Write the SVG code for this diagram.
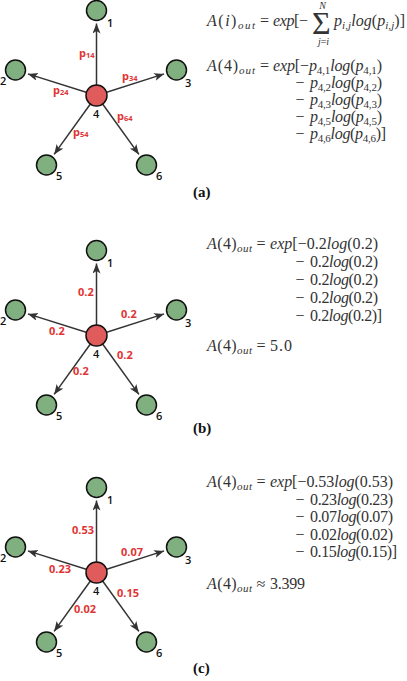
<svg xmlns="http://www.w3.org/2000/svg" width="407" height="681" viewBox="0 0 407 681">
<style>
.bg{fill:#ffffff}
.edge{stroke:#333333;stroke-width:1.5;fill:none;marker-end:url(#arr)}
.leaf{fill:#80b080;stroke:#111111;stroke-width:1.5}
.hub{fill:#e05c5c;stroke:#111111;stroke-width:1.5}
.nl{font-family:"Open Sans","Liberation Sans",sans-serif;font-weight:600;font-size:11px;fill:#111111}
.el{font-family:"Open Sans","Liberation Sans",sans-serif;font-weight:700;font-size:11px;fill:#e03434}
.els{font-size:7.5px}
.m{font-family:"Liberation Serif","Times New Roman",serif;font-size:16px;fill:#333333}
.i{font-style:italic}
.s{font-size:11px}
.lim{font-size:10px}
.big{font-size:32px}
.cap{font-family:"Liberation Serif","Times New Roman",serif;font-weight:700;font-size:15px;fill:#111111}
</style>
<defs>
<marker id="arr" markerUnits="userSpaceOnUse" markerWidth="11" markerHeight="9" refX="10" refY="4" orient="auto" viewBox="0 0 11 9">
<path d="M0,0 L10,4 L0,8 L2.5,4 Z" fill="#333333"/>
</marker>
<g id="star-edges">
<line class="edge" x1="96.5" y1="95.5" x2="96.5" y2="23.5"/>
<line class="edge" x1="96.5" y1="95.5" x2="27.9" y2="73.9"/>
<line class="edge" x1="96.5" y1="95.5" x2="164.1" y2="73.9"/>
<line class="edge" x1="96.5" y1="95.5" x2="54.1" y2="154.4"/>
<line class="edge" x1="96.5" y1="95.5" x2="138.9" y2="154.4"/>
</g>
</defs>
<rect class="bg" x="0" y="0" width="407" height="681"/>

<!-- Panel (a) -->
<g id="panel-a">
<g id="a-connectors">
<use href="#star-edges"/>
<text class="el" x="79" y="57">p<tspan class="els" dy="1">14</tspan></text>
<text class="el" x="53" y="94">p<tspan class="els" dy="1">24</tspan></text>
<text class="el" x="122" y="80">p<tspan class="els" dy="1">34</tspan></text>
<text class="el" x="73" y="136">p<tspan class="els" dy="1">54</tspan></text>
<text class="el" x="117" y="120">p<tspan class="els" dy="1">64</tspan></text>
</g>
<g id="a-node1"><circle class="leaf" cx="96.5" cy="10.5" r="10"/><text class="nl" x="107" y="27">1</text></g>
<g id="a-node2"><circle class="leaf" cx="15.5" cy="70" r="10"/><text class="nl" x="0" y="85">2</text></g>
<g id="a-node3"><circle class="leaf" cx="176.5" cy="70" r="10"/><text class="nl" x="185" y="87">3</text></g>
<g id="a-node4"><circle class="hub" cx="96.5" cy="95.5" r="10.5"/><text class="nl" x="93" y="118">4</text></g>
<g id="a-node5"><circle class="leaf" cx="46.5" cy="165" r="10"/><text class="nl" x="56" y="180">5</text></g>
<g id="a-node6"><circle class="leaf" cx="146.5" cy="165" r="10"/><text class="nl" x="156" y="180">6</text></g>
<g id="a-formula">
<text class="m" x="207" y="26" textLength="48"><tspan class="i">A</tspan>(<tspan class="i">i</tspan>)<tspan class="i s" dy="3">out</tspan></text>
<text class="m" x="264.5" y="26" text-anchor="middle">=</text>
<text class="m" x="273" y="26" textLength="35"><tspan class="i">exp</tspan>[−</text>
<text class="m big" x="312" y="34" textLength="20">Σ</text>
<text class="m i lim" x="322.5" y="9" text-anchor="middle">N</text>
<text class="m lim" x="323.5" y="45" text-anchor="middle"><tspan class="i">j</tspan>=<tspan class="i">i</tspan></text>
<text class="m" x="334" y="26" textLength="71"><tspan class="i">p</tspan><tspan class="i s" dy="3">i,j</tspan><tspan class="i" dy="-3">log</tspan>(<tspan class="i">p</tspan><tspan class="i s" dy="3">i,j</tspan><tspan dy="-3">)]</tspan></text>

<text class="m" x="207" y="71" textLength="48"><tspan class="i">A</tspan>(4)<tspan class="i s" dy="3">out</tspan></text>
<text class="m" x="264.5" y="71" text-anchor="middle">=</text>
<text class="m" x="273" y="71" textLength="109"><tspan class="i">exp</tspan>[−<tspan class="i">p</tspan><tspan class="s" dy="3">4,1</tspan><tspan class="i" dy="-3">log</tspan>(<tspan class="i">p</tspan><tspan class="s" dy="3">4,1</tspan><tspan dy="-3">)</tspan></text>
<text class="m" x="300" y="88" text-anchor="middle">−</text>
<text class="m" x="310" y="88" textLength="72"><tspan class="i">p</tspan><tspan class="s" dy="3">4,2</tspan><tspan class="i" dy="-3">log</tspan>(<tspan class="i">p</tspan><tspan class="s" dy="3">4,2</tspan><tspan dy="-3">)</tspan></text>
<text class="m" x="300" y="105" text-anchor="middle">−</text>
<text class="m" x="310" y="105" textLength="72"><tspan class="i">p</tspan><tspan class="s" dy="3">4,3</tspan><tspan class="i" dy="-3">log</tspan>(<tspan class="i">p</tspan><tspan class="s" dy="3">4,3</tspan><tspan dy="-3">)</tspan></text>
<text class="m" x="300" y="122" text-anchor="middle">−</text>
<text class="m" x="310" y="122" textLength="72"><tspan class="i">p</tspan><tspan class="s" dy="3">4,5</tspan><tspan class="i" dy="-3">log</tspan>(<tspan class="i">p</tspan><tspan class="s" dy="3">4,5</tspan><tspan dy="-3">)</tspan></text>
<text class="m" x="300" y="139" text-anchor="middle">−</text>
<text class="m" x="310" y="139" textLength="76"><tspan class="i">p</tspan><tspan class="s" dy="3">4,6</tspan><tspan class="i" dy="-3">log</tspan>(<tspan class="i">p</tspan><tspan class="s" dy="3">4,6</tspan><tspan dy="-3">)]</tspan></text>
</g>
<text class="cap" x="193" y="197">(a)</text>
</g>

<!-- Panel (b) -->
<g id="panel-b">
<g transform="translate(0,240)">
<g id="b-connectors">
<use href="#star-edges"/>
<text class="el" x="78" y="56">0.2</text>
<text class="el" x="49" y="95">0.2</text>
<text class="el" x="121" y="78">0.2</text>
<text class="el" x="73" y="135">0.2</text>
<text class="el" x="117" y="119">0.2</text>
</g>
<g id="b-node1"><circle class="leaf" cx="96.5" cy="10.5" r="10"/><text class="nl" x="107" y="27">1</text></g>
<g id="b-node2"><circle class="leaf" cx="15.5" cy="70" r="10"/><text class="nl" x="0" y="85">2</text></g>
<g id="b-node3"><circle class="leaf" cx="176.5" cy="70" r="10"/><text class="nl" x="185" y="87">3</text></g>
<g id="b-node4"><circle class="hub" cx="96.5" cy="95.5" r="10.5"/><text class="nl" x="93" y="118">4</text></g>
<g id="b-node5"><circle class="leaf" cx="46.5" cy="165" r="10"/><text class="nl" x="56" y="180">5</text></g>
<g id="b-node6"><circle class="leaf" cx="146.5" cy="165" r="10"/><text class="nl" x="156" y="180">6</text></g>
</g>
<g id="b-formula">
<text class="m" x="207" y="249" textLength="45"><tspan class="i">A</tspan>(4)<tspan class="i s" dy="3">out</tspan></text>
<text class="m" x="261" y="249" text-anchor="middle">=</text>
<text class="m" x="270" y="249" textLength="108"><tspan class="i">exp</tspan>[−0.2<tspan class="i">log</tspan>(0.2)</text>
<text class="m" x="300" y="267" text-anchor="middle">−</text>
<text class="m" x="310" y="267" textLength="68">0.2<tspan class="i">log</tspan>(0.2)</text>
<text class="m" x="300" y="285" text-anchor="middle">−</text>
<text class="m" x="310" y="285" textLength="68">0.2<tspan class="i">log</tspan>(0.2)</text>
<text class="m" x="300" y="303" text-anchor="middle">−</text>
<text class="m" x="310" y="303" textLength="68">0.2<tspan class="i">log</tspan>(0.2)</text>
<text class="m" x="300" y="321" text-anchor="middle">−</text>
<text class="m" x="310" y="321" textLength="72">0.2<tspan class="i">log</tspan>(0.2)]</text>
<text class="m" x="207" y="351" textLength="45"><tspan class="i">A</tspan>(4)<tspan class="i s" dy="3">out</tspan></text>
<text class="m" x="261" y="351" text-anchor="middle">=</text>
<text class="m" x="270" y="351" textLength="22">5.0</text>
</g>
<text class="cap" x="193" y="433">(b)</text>
</g>

<!-- Panel (c) -->
<g id="panel-c">
<g transform="translate(0,477)">
<g id="c-connectors">
<use href="#star-edges"/>
<text class="el" x="72" y="57">0.53</text>
<text class="el" x="49" y="96">0.23</text>
<text class="el" x="121" y="79">0.07</text>
<text class="el" x="74" y="136">0.02</text>
<text class="el" x="117" y="120">0.15</text>
</g>
<g id="c-node1"><circle class="leaf" cx="96.5" cy="10.5" r="10"/><text class="nl" x="107" y="27">1</text></g>
<g id="c-node2"><circle class="leaf" cx="15.5" cy="70" r="10"/><text class="nl" x="0" y="85">2</text></g>
<g id="c-node3"><circle class="leaf" cx="176.5" cy="70" r="10"/><text class="nl" x="185" y="87">3</text></g>
<g id="c-node4"><circle class="hub" cx="96.5" cy="95.5" r="10.5"/><text class="nl" x="93" y="118">4</text></g>
<g id="c-node5"><circle class="leaf" cx="46.5" cy="165" r="10"/><text class="nl" x="56" y="180">5</text></g>
<g id="c-node6"><circle class="leaf" cx="146.5" cy="165" r="10"/><text class="nl" x="156" y="180">6</text></g>
</g>
<g id="c-formula">
<text class="m" x="207" y="487" textLength="45"><tspan class="i">A</tspan>(4)<tspan class="i s" dy="3">out</tspan></text>
<text class="m" x="261" y="487" text-anchor="middle">=</text>
<text class="m" x="270" y="487" textLength="123"><tspan class="i">exp</tspan>[−0.53<tspan class="i">log</tspan>(0.53)</text>
<text class="m" x="300" y="505" text-anchor="middle">−</text>
<text class="m" x="310" y="505" textLength="83">0.23<tspan class="i">log</tspan>(0.23)</text>
<text class="m" x="300" y="522" text-anchor="middle">−</text>
<text class="m" x="310" y="522" textLength="83">0.07<tspan class="i">log</tspan>(0.07)</text>
<text class="m" x="300" y="540" text-anchor="middle">−</text>
<text class="m" x="310" y="540" textLength="83">0.02<tspan class="i">log</tspan>(0.02)</text>
<text class="m" x="300" y="557" text-anchor="middle">−</text>
<text class="m" x="310" y="557" textLength="87">0.15<tspan class="i">log</tspan>(0.15)]</text>
<text class="m" x="207" y="589" textLength="45"><tspan class="i">A</tspan>(4)<tspan class="i s" dy="3">out</tspan></text>
<text class="m" x="261" y="589" text-anchor="middle">≈</text>
<text class="m" x="270" y="589" textLength="35">3.399</text>
</g>
<text class="cap" x="193" y="673">(c)</text>
</g>
</svg>
